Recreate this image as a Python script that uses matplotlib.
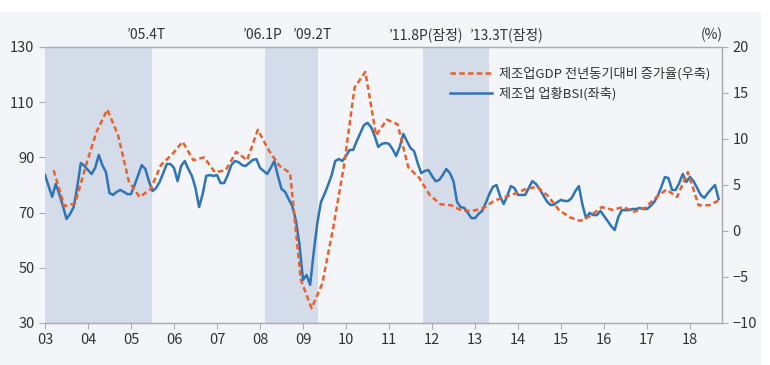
import matplotlib
matplotlib.use('Agg')
import matplotlib.pyplot as plt
from matplotlib.patches import Rectangle
import numpy as np

plt.rcParams['font.family'] = ['Noto Sans CJK KR', 'DejaVu Sans']

# 제조업 업황BSI (좌축), 월별 2003.1 ~ 2018.9
bsi = [
    83.6, 79.6, 75.7, 80.4, 76.7, 72.4, 67.7, 69.5, 72.0, 79.3, 88.0, 86.9,   # 03
    85.4, 84.0, 86.2, 90.9, 87.2, 84.7, 77.1, 76.4, 77.5, 78.2, 77.5, 76.7,   # 04
    76.7, 80.0, 83.6, 87.2, 85.8, 81.4, 77.8, 78.9, 81.1, 84.3, 87.6, 87.6,   # 05
    86.2, 81.4, 86.9, 88.7, 85.8, 83.3, 78.9, 72.0, 76.7, 83.3, 83.6, 83.3,   # 06
    83.6, 80.7, 80.7, 83.6, 87.2, 88.7, 88.3, 87.2, 86.9, 88.0, 89.1, 89.4,   # 07
    86.2, 85.1, 84.0, 86.2, 88.7, 83.3, 78.6, 77.5, 74.9, 72.4, 67.3, 58.6,   # 08
    45.6, 47.4, 43.8, 55.7, 66.2, 73.8, 76.7, 80.0, 83.6, 88.7, 89.4, 88.7,   # 09
    90.5, 92.7, 92.7, 95.9, 98.8, 101.7, 102.5, 101.0, 97.8, 93.8, 94.9, 95.2,  # 10
    94.9, 93.0, 90.5, 93.8, 98.5, 95.9, 93.4, 92.3, 88.0, 84.3, 85.1, 85.4,   # 11
    83.3, 81.4, 81.8, 83.6, 85.8, 84.3, 81.4, 73.8, 72.0, 71.7, 69.9, 68.0,   # 12
    68.0, 69.5, 70.6, 73.5, 76.7, 79.3, 80.0, 76.0, 73.1, 76.0, 79.6, 78.9,   # 13
    76.4, 76.4, 76.4, 78.9, 81.4, 80.4, 78.6, 76.4, 74.2, 72.8, 72.8, 73.8,   # 14
    74.6, 74.2, 74.2, 75.3, 77.8, 79.6, 72.8, 68.0, 69.9, 69.1, 69.1, 70.6,   # 15
    68.8, 67.0, 65.1, 63.7, 68.4, 70.9, 70.9, 70.9, 71.3, 71.3, 71.7, 71.3,   # 16
    71.3, 72.4, 73.8, 76.0, 79.3, 82.9, 82.5, 78.2, 78.2, 80.7, 84.0, 81.1,   # 17
    82.9, 81.4, 78.9, 76.4, 75.3, 77.1, 78.6, 80.0, 74.9,                     # 18
]

# 제조업GDP 전년동기대비 증가율 (우축, %), 분기별 2003.1Q ~ 2018.3Q
gdp = [
    6.6, 2.7, 3.0, 7.1,      # 03
    10.8, 13.2, 10.4, 5.4,   # 04
    3.7, 4.5, 7.2, 8.3,      # 05
    9.7, 7.7, 8.0, 6.4,      # 06
    6.6, 8.6, 7.7, 11.0,     # 07
    8.8, 7.1, 6.3, -5.3,     # 08
    -8.4, -5.7, 0.3, 7.0,    # 09
    15.6, 17.3, 10.4, 12.1,  # 10
    11.6, 6.9, 5.8, 3.9,     # 11
    2.9, 2.8, 2.2, 2.2,      # 12
    2.5, 3.3, 3.7, 4.1,      # 13
    4.6, 4.8, 3.8, 2.3,      # 14
    1.5, 1.1, 1.7, 2.6,      # 15
    2.3, 2.6, 2.1, 2.5,      # 16
    3.6, 4.5, 3.7, 6.4,      # 17
    2.8, 2.8, 3.4,           # 18
]

# 경기순환 국면 (음영)
shade_start = [2003.0, 2008.12, 2011.79]
shade_end = [2005.49, 2009.35, 2013.33]

# 상단 기준순환일 라벨
cycle_labels = ['’05.4T', '’06.1P', '’09.2T', '’11.8P(잠정)', '’13.3T(잠정)']
cycle_label_x = [2005.33, 2008.05, 2009.2, 2011.85, 2013.72]

years = list(range(2003, 2019))
year_labels = ['%02d' % (y % 100) for y in years]

bsi_x = 2003 + np.arange(len(bsi)) / 12.0
gdp_x = 2003 + np.arange(len(gdp)) * 0.25 + 0.2

bg = '#F3F5F9'
text_c = '#333333'
spine_c = '#A8ADB5'
blue = '#2F74B5'
orange = '#E8612C'

fig = plt.figure(figsize=(7.7, 3.65), dpi=100, facecolor='white')
fig.patches.append(Rectangle((0, 0), 0.988, 0.967, transform=fig.transFigure,
                             facecolor=bg, edgecolor='none', zorder=-10))

ax = fig.add_axes([45 / 770, 42 / 365, 677 / 770, 276 / 365])
ax.set_facecolor(bg)
for s, e in zip(shade_start, shade_end):
    ax.axvspan(s, e, color='#D4DCEA', lw=0, zorder=0)

ax.plot(bsi_x, bsi, color=blue, lw=1.8, zorder=3)
ax.set_xlim(2003, 2018.745)
ax.set_ylim(30, 130)
ax.set_yticks([30, 50, 70, 90, 110, 130])
ax.set_xticks(years)
ax.set_xticklabels(year_labels)

ax2 = ax.twinx()
ax2.patch.set_visible(False)
ax2.plot(gdp_x, gdp, color=orange, lw=1.8, dashes=(2.2, 1.3), zorder=2)
ax2.set_ylim(-10, 20)
ax2.set_yticks([-10, -5, 0, 5, 10, 15, 20])

for a in (ax, ax2):
    for sp in a.spines.values():
        sp.set_color(spine_c)
        sp.set_linewidth(0.9)
    a.tick_params(colors=spine_c, labelcolor=text_c, labelsize=10.5, length=4, width=0.8)
ax.spines['left'].set_visible(False)
ax2.spines['left'].set_visible(False)

for lab, x in zip(cycle_labels, cycle_label_x):
    ax.text(x, 1.045, lab, transform=ax.get_xaxis_transform(), ha='center', va='center',
            fontsize=10, color=text_c)
ax.text(0.985, 1.045, '(%)', transform=ax.transAxes, ha='center', va='center',
        fontsize=10, color=text_c)

h1, = ax2.plot([], [], color=orange, lw=1.8, dashes=(2.2, 1.3))
h2, = ax2.plot([], [], color=blue, lw=1.8)
ax2.legend([h1, h2], ['제조업GDP 전년동기대비 증가율(우축)', '제조업 업황BSI(좌축)'],
           loc='upper right', bbox_to_anchor=(1.0, 0.97), frameon=False,
           fontsize=9.5, handlelength=3.2, labelspacing=0.45, handletextpad=0.5,
           labelcolor=text_c)

fig.savefig('out.png', dpi=100, facecolor=fig.get_facecolor())
